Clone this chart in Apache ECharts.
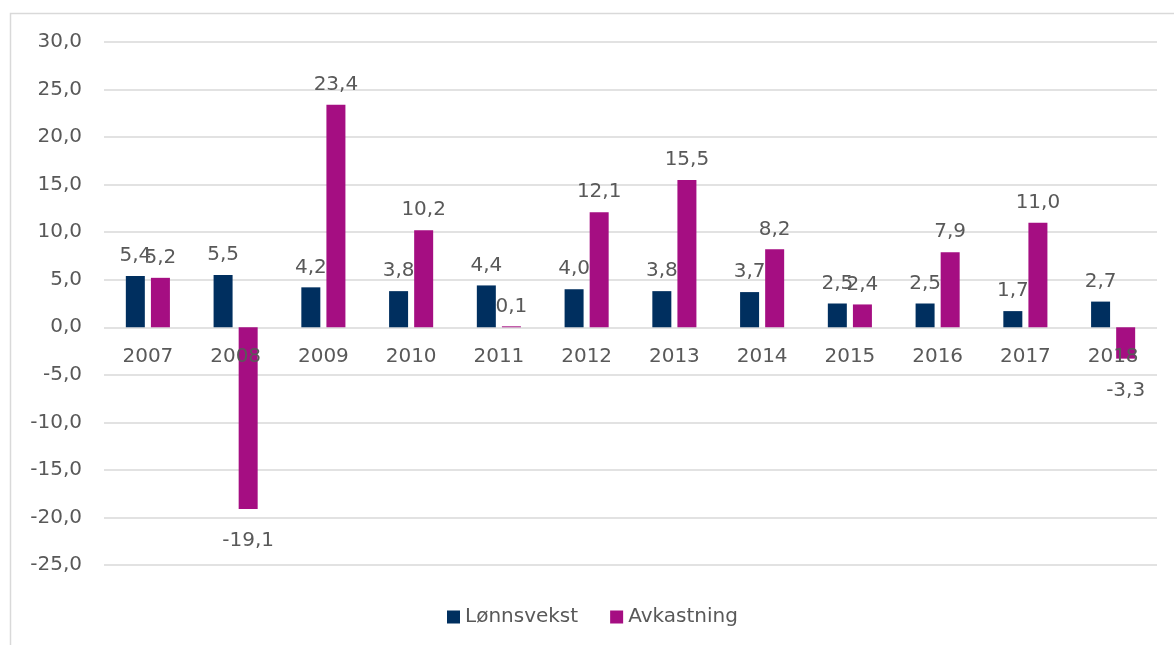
<!DOCTYPE html>
<html>
<head>
<meta charset="utf-8">
<script src="https://cdn.jsdelivr.net/npm/echarts@6/dist/echarts.min.js"></script>
<style>
html,body{margin:0;padding:0;background:#fff;}
#c{width:1174px;height:645px;}
</style>
</head>
<body>
<div id="c"></div>
<script>
var categories = ['2007','2008','2009','2010','2011','2012','2013','2014','2015','2016','2017','2018'];
var lonnsvekst = [5.4,5.5,4.2,3.8,4.4,4.0,3.8,3.7,2.5,2.5,1.7,2.7];
var avkastning = [5.2,-19.1,23.4,10.2,0.1,12.1,15.5,8.2,2.4,7.9,11.0,-3.3];
var yTicks = {min:-25, max:30, interval:5};

var FONT = '"DejaVu Sans", sans-serif';
var TXT = '#595959';

function fmt(v){ return v.toFixed(1).replace('.', ','); }
function items(arr){
  return arr.map(function(v){
    return {value:v, label:{position: v < 0 ? 'bottom' : 'top', distance: v < 0 ? 22 : 10}};
  });
}

var chart = echarts.init(document.getElementById('c'));
chart.setOption({
  animation:false,
  backgroundColor:'#fff',
  graphic:[{type:'rect', shape:{x:10.5,y:13.5,width:1200,height:700}, style:{fill:'none', stroke:'#d9d9d9', lineWidth:1.5}, silent:true}],
  grid:{left:104, right:17, top:42, bottom:80},
  legend:{
    top:602, left:442, itemWidth:13, itemHeight:13, itemGap:32,
    icon:'rect',
    textStyle:{color:TXT, fontSize:20, fontFamily:FONT},
    data:['Lønnsvekst','Avkastning']
  },
  xAxis:{
    type:'category', data:categories, z:5,
    position:'bottom', offset:-238,
    axisLine:{show:false, onZero:false},
    axisTick:{show:false},
    axisLabel:{color:TXT, fontSize:20, fontFamily:FONT, margin:20}
  },
  yAxis:{
    type:'value', min:yTicks.min, max:yTicks.max, interval:yTicks.interval,
    axisLine:{show:false}, axisTick:{show:false},
    splitLine:{lineStyle:{color:'#d9d9d9', width:1.5}},
    axisLabel:{color:TXT, fontSize:20, fontFamily:FONT, margin:22, formatter:function(v){return fmt(v);}}
  },
  series:[
    {name:'Lønnsvekst', type:'bar', data:items(lonnsvekst), barWidth:19, barGap:'32%',
     itemStyle:{color:'#002F5F'},
     label:{show:true, color:TXT, fontSize:20, fontFamily:FONT, formatter:function(p){return fmt(p.value);}}},
    {name:'Avkastning', type:'bar', data:items(avkastning), barWidth:19,
     itemStyle:{color:'#A50E82'},
     label:{show:true, color:TXT, fontSize:20, fontFamily:FONT, formatter:function(p){return fmt(p.value);}}}
  ]
});
</script>
</body>
</html>
